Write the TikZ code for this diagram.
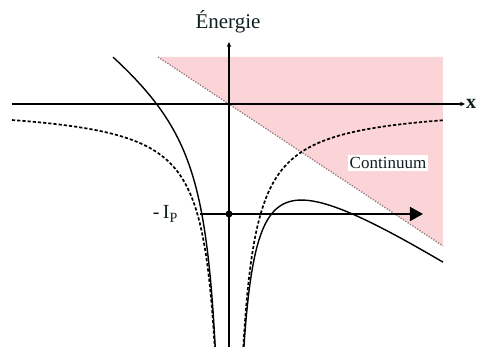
\documentclass[tikz,border=0pt]{standalone}
\usepackage{fontspec}
\setmainfont{Liberation Serif}
\usetikzlibrary{arrows.meta}
\definecolor{contpink}{RGB}{250,212,214}
\definecolor{bordpink}{RGB}{150,120,125}
\definecolor{labcol}{RGB}{15,30,30}
\begin{document}
\begin{tikzpicture}[x=1pt,y=1pt,
  axisline/.style={line width=1.8pt,-{Stealth[length=5pt,width=4.5pt]}},
  pot/.style={line width=1.4pt},
  coul/.style={line width=1.7pt,dash pattern=on 3.2pt off 2pt},
  lbl/.style={text=labcol,inner sep=0pt}]
\useasboundingbox (-229,-243) rectangle (254,104);
% continuum region
\fill[contpink] (-71,47) -- (214,47) -- (214,-142) -- cycle;
\draw[bordpink,line width=1.3pt,dash pattern=on 1.3pt off 1.5pt] (-71,47) -- (214,-142);
\node[lbl,fill=white,inner sep=2pt,font=\fontsize{17}{17}\selectfont] (cont) at (159,-59) {Continuum};
% axes
\coordinate (xl) at (-217,0);
\coordinate (xr) at (236,0);
\coordinate (yb) at (0,-243);
\coordinate (yt) at (0,62);
\draw[axisline] (xl) -- (xr);
\draw[axisline] (yb) -- (yt);
\node[lbl,anchor=west,font=\fontsize{20}{20}\selectfont\bfseries] (xlab) at ([xshift=1pt]xr) {x};
\node[lbl,font=\fontsize{21}{21}\selectfont] (elab) at (-1,82) {Énergie};
% Coulomb (dashed)
\draw[coul] plot[smooth,samples=120,domain=-217:-40] (\x,{-3480/abs(\x)})
  -- plot[smooth,samples=120,domain=-40:-14.3] (\x,{-3480/abs(\x)});
\draw[coul] plot[smooth,samples=120,domain=14.3:40] (\x,{-3480/\x})
  -- plot[smooth,samples=120,domain=40:214] (\x,{-3480/\x});
% Coulomb + field (solid)
\draw[pot] plot[smooth,samples=120,domain=-116:-35] (\x,{-3480/abs(\x)-0.663*\x})
  -- plot[smooth,samples=120,domain=-35:-13.8] (\x,{-3480/abs(\x)-0.663*\x});
\draw[pot] plot[smooth,samples=120,domain=14.9:40] (\x,{-3480/\x-0.663*\x})
  -- plot[smooth,samples=120,domain=40:214] (\x,{-3480/\x-0.663*\x});
% ionisation level
\coordinate (ls) at (-29,-110);
\coordinate (le) at (194,-110);
\node[circle,fill=black,inner sep=0pt,minimum size=7pt] (dot) at (0,-110) {};
\draw[line width=1.6pt,-{Triangle[length=13pt,width=14pt]}] (ls) -- (le);
\node[lbl,anchor=east,font=\fontsize{20}{20}\selectfont] (ip) at (-51,-110) {-\,I$_{\mathrm{P}}$};
\end{tikzpicture}
\end{document}
